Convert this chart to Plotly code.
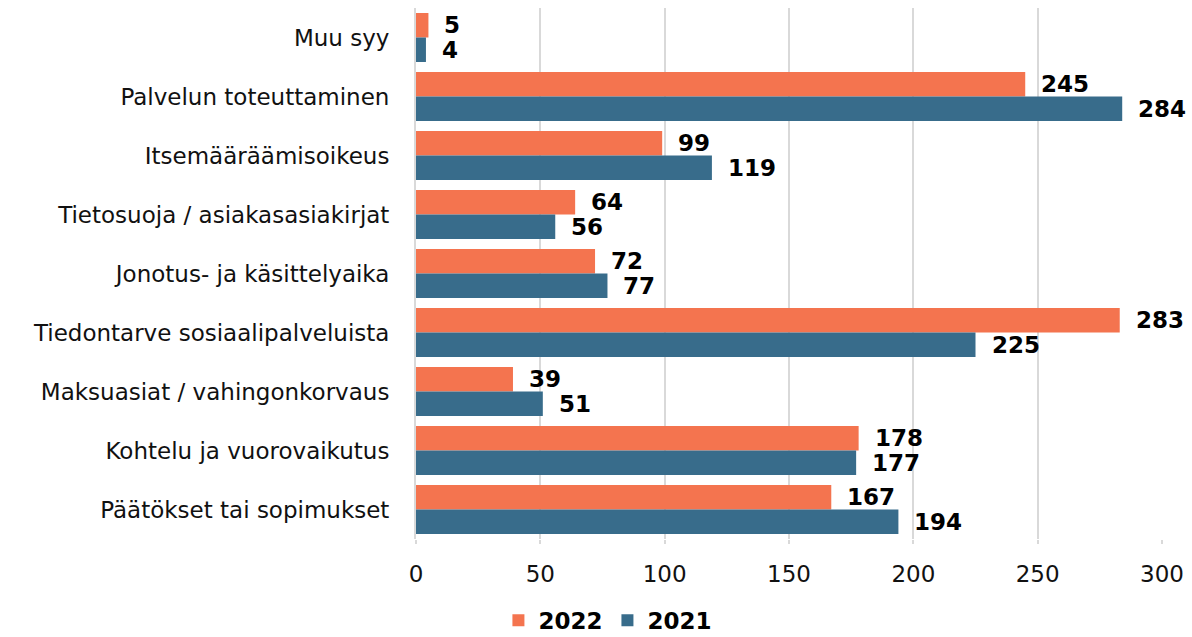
import plotly.graph_objects as go

# Categories listed top to bottom
categories = [
    "Muu syy",
    "Palvelun toteuttaminen",
    "Itsemääräämisoikeus",
    "Tietosuoja / asiakasasiakirjat",
    "Jonotus- ja käsittelyaika",
    "Tiedontarve sosiaalipalveluista",
    "Maksuasiat / vahingonkorvaus",
    "Kohtelu ja vuorovaikutus",
    "Päätökset tai sopimukset",
]
values_2022 = [5, 245, 99, 64, 72, 283, 39, 178, 167]
values_2021 = [4, 284, 119, 56, 77, 225, 51, 177, 194]
x_ticks = [0, 50, 100, 150, 200, 250, 300]

ORANGE = "#F4744F"
BLUE = "#386C8B"
FONT = "DejaVu Sans, sans-serif"

fig = go.Figure()
for name, vals, color in [("2022", values_2022, ORANGE), ("2021", values_2021, BLUE)]:
    fig.add_trace(go.Bar(
        name=name, y=categories, x=vals, orientation="h",
        marker=dict(color=color, line=dict(width=0)),
    ))

# Value labels placed just right of each bar end
for i, cat in enumerate(categories):
    for vals, sign in [(values_2022, -1), (values_2021, 1)]:
        fig.add_annotation(
            x=vals[i], y=cat, text=f"<b>{vals[i]}</b>", showarrow=False,
            xanchor="left", xshift=14, yshift=-sign * 12.5,
            font=dict(family=FONT, size=23, color="#000000"),
        )

fig.update_layout(
    width=1192, height=637,
    margin=dict(l=416, r=30, t=8, b=98, autoexpand=False),
    barmode="group", bargap=0.17, bargroupgap=0,
    plot_bgcolor="white", paper_bgcolor="white",
    font=dict(family=FONT, size=20, color="#111111"),
    showlegend=True,
    legend=dict(
        orientation="h", xref="container", yref="paper",
        x=0.51, xanchor="center", y=-0.153, yanchor="middle",
        font=dict(family=FONT, size=23, color="#000000", weight="bold"),
        traceorder="normal", itemwidth=30,
    ),
    xaxis=dict(
        range=[0, 300], tickvals=x_ticks, showgrid=True,
        gridcolor="#D9D9D9", gridwidth=2, zeroline=False,
        ticks="outside", ticklen=4, tickcolor="#D9D9D9", tickwidth=2,
        tickfont=dict(size=23, color="#111111"), ticklabelstandoff=10,
        showline=False,
    ),
    yaxis=dict(
        autorange="reversed", showgrid=False, ticks="",
        tickfont=dict(size=23, color="#111111"), ticklabelstandoff=20,
        showline=True, linecolor="#D9D9D9", linewidth=2,
    ),
)

fig.write_html("out.html")
